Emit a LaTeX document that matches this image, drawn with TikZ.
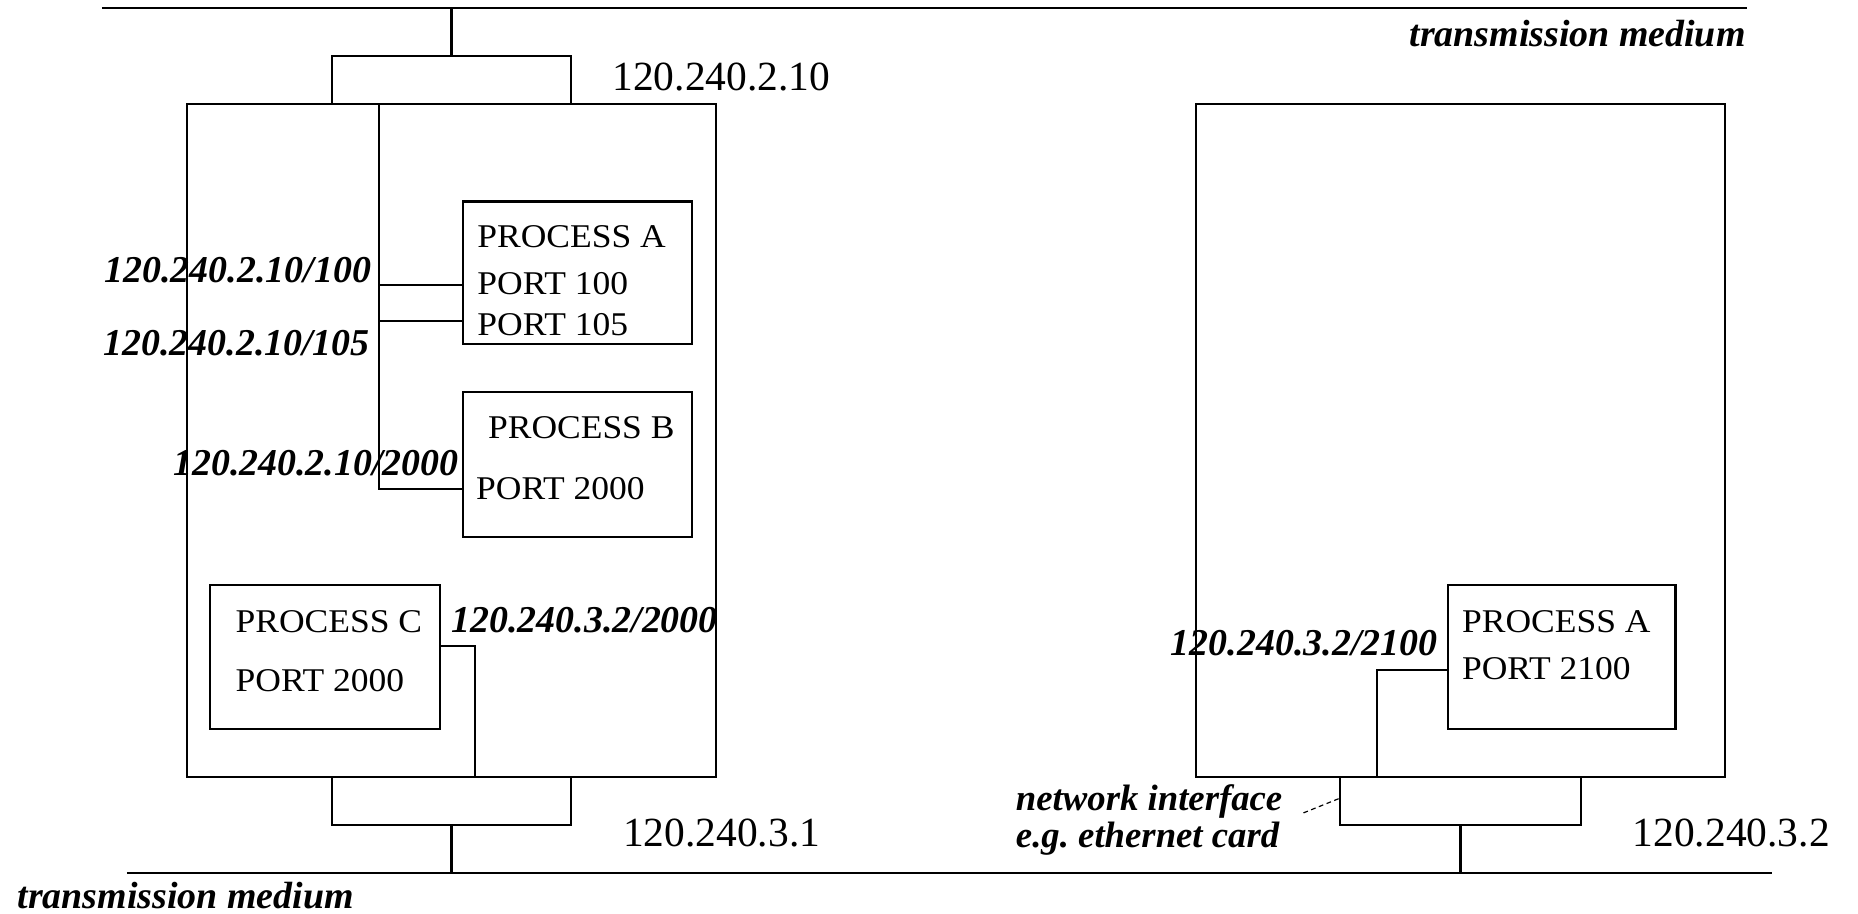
\documentclass[tikz,border=0pt]{standalone}
\usepackage{fontspec}
\usepackage{graphicx}
\setmainfont{Liberation Serif}
\usetikzlibrary{calc}
\newcommand{\ptx}[1]{\scalebox{1.07}[1]{#1}}
\begin{document}
\begin{tikzpicture}[x=1pt,y=-1pt,line width=1.8pt,
  box/.style={draw,line width=1.8pt,inner sep=0pt,outer sep=0pt,anchor=north west},
  ptxt/.style={font=\fontsize{28}{30}\selectfont,inner sep=0pt,anchor=west},
  iptxt/.style={font=\fontsize{35}{38}\selectfont,inner sep=0pt,anchor=west},
  bitxt/.style={font=\fontsize{32}{34}\selectfont\bfseries\itshape,inner sep=0pt},
  nitxt/.style={font=\fontsize{31}{33}\selectfont\bfseries\itshape,inner sep=0pt,anchor=west},
  wire/.style={draw,line width=1.8pt},
  leader/.style={draw,line width=1pt,dash pattern=on 4pt off 3pt}]
\useasboundingbox (0,0) rectangle (1568,771);

% transmission media
\coordinate (tl1) at (86,7);
\coordinate (tl2) at (1474,7);
\coordinate (bl1) at (107,737);
\coordinate (bl2) at (1495,737);
\draw[wire] (tl1) -- (tl2);
\draw[wire] (bl1) -- (bl2);

% hosts
\node[box,minimum width=446pt,minimum height=568pt] (hostL) at (158,88) {};
\node[box,minimum width=447pt,minimum height=568pt] (hostR) at (1009,88) {};

% network interfaces
\node[box,minimum width=202pt,minimum height=41pt] (tIF) at (280,47) {};
\node[box,minimum width=202pt,minimum height=40pt] (bIFL) at (280,656) {};
\node[box,minimum width=203pt,minimum height=40pt] (bIFR) at (1131,656) {};

\draw[wire] (tIF.north) -- (tIF.north |- tl1);
\draw[wire] (bIFL.south) -- (bIFL.south |- bl1);
\draw[wire] (bIFR.south) -- (bIFR.south |- bl1);

% processes
\node[box,minimum width=193pt,minimum height=120pt] (pa) at (391,170) {};
\node[box,minimum width=193pt,minimum height=122pt] (pb) at (391,331) {};
\node[box,minimum width=194pt,minimum height=121pt] (pc) at (177,494) {};
\node[box,minimum width=192pt,minimum height=121pt] (par) at (1222,494) {};

\node[ptxt] (paT) at (402,200) {\ptx{PROCESS A}};
\node[ptxt] (paP1) at (402,239) {\ptx{PORT 100}};
\node[ptxt] (paP2) at (402,274) {\ptx{PORT 105}};
\node[ptxt] (pbT) at (411,361) {\ptx{PROCESS B}};
\node[ptxt] (pbP) at (401,412) {\ptx{PORT 2000}};
\node[ptxt] (pcT) at (198,525) {\ptx{PROCESS C}};
\node[ptxt] (pcP) at (198,574) {\ptx{PORT 2000}};
\node[ptxt] (parT) at (1233,525) {\ptx{PROCESS A}};
\node[ptxt] (parP) at (1233,564) {\ptx{PORT 2100}};

% internal wiring, left host
\coordinate (bus) at (320,88);
\coordinate (busEnd) at (320,413);
\draw[wire] (bus) -- (busEnd) -- (busEnd -| pb.west);
\draw[wire] (bus |- 0,240.5) -- (pa.west |- 0,240.5);
\draw[wire] (bus |- 0,270.6) -- (pa.west |- 0,270.6);
\coordinate (cTurn) at (401,545);
\draw[wire] (pc.east |- cTurn) -- (cTurn) -- (cTurn |- hostL.south);

% internal wiring, right host
\coordinate (rTurn) at (1162,565.6);
\draw[wire] (par.west |- rTurn) -- (rTurn) -- (rTurn |- hostR.south);

% address labels
\node[iptxt] (ipA) at (516,65) {120.240.2.10};
\node[iptxt] (ipB) at (525,703) {120.240.3.1};
\node[iptxt] (ipC) at (1377,703) {120.240.3.2};

\node[bitxt,anchor=east] (tm1) at (1474,28) {transmission medium};
\node[bitxt,anchor=west] (tm2) at (14,756) {transmission medium};

\node[bitxt,anchor=east] (l100) at (314,228) {120.240.2.10/100};
\node[bitxt,anchor=east] (l105) at (313,290) {120.240.2.10/105};
\node[bitxt,anchor=east] (l2000) at (388,391) {120.240.2.10/2000};
\node[bitxt,anchor=west] (l32000) at (380,523) {120.240.3.2/2000};
\node[bitxt,anchor=east] (l2100) at (1214,543) {120.240.3.2/2100};

\node[nitxt] (ni1) at (856.5,676) {network interface};
\node[nitxt] (ni2) at (856.5,708) {e.g.\ ethernet card};
\coordinate (ldA) at (1100,686);
\draw[leader] (ldA) -- (bIFR.west |- 0,673.5);
\end{tikzpicture}
\end{document}
